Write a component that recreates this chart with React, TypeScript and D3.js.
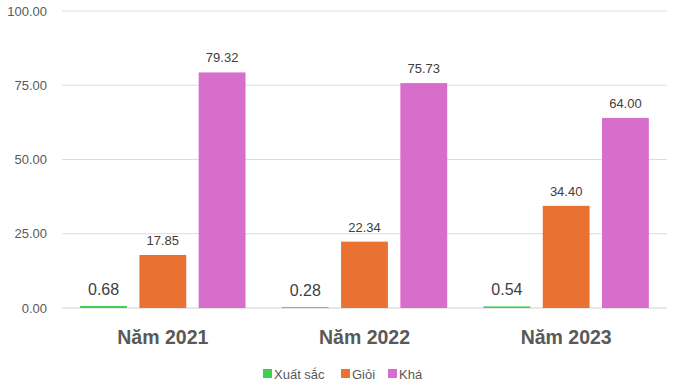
import React from "react";
import * as d3 from "d3";

const categories = ["Năm 2021", "Năm 2022", "Năm 2023"];
const seriesNames = ["Xuất sắc", "Giỏi", "Khá"];
const xuatSac = [0.68, 0.28, 0.54];
const gioi = [17.85, 22.34, 34.4];
const kha = [79.32, 75.73, 64.0];
const yTicks = [0, 25, 50, 75, 100];
const colors = ["#3fcf56", "#e97132", "#d86ecc"];

export default function App() {
  const W = 676, H = 388;
  const left = 62, right = 667, top = 11, bottom = 308;
  const series = [xuatSac, gioi, kha];
  const y = d3.scaleLinear().domain([0, 100]).range([bottom, top]);
  const x0 = d3.scaleBand<string>().domain(categories).range([left, right]).paddingInner(0.18).paddingOuter(0.09);
  const x1 = d3.scaleBand<string>().domain(seriesNames).range([0, x0.bandwidth()]).paddingInner(0.21);
  const font = "'Liberation Sans', Arial, sans-serif";
  const legendX = [263, 341, 388];
  return (
    <svg width={W} height={H} style={{ position: "absolute", left: 0, top: 0 }} fontFamily={font}>
      <rect width={W} height={H} fill="#fff" />
      {yTicks.map((t) => (
        <g key={t}>
          <line x1={left} x2={right} y1={y(t)} y2={y(t)} stroke={t === 0 ? "#d0d0d0" : "#dcdcdc"} strokeWidth={1} />
          <text x={47} y={y(t)} dy="0.35em" textAnchor="end" fontSize={13} fill="#595959">
            {t.toFixed(2)}
          </text>
        </g>
      ))}
      {categories.map((c, i) => (
        <g key={c}>
          {series.map((s, j) => {
            const bx = (x0(c) as number) + (x1(seriesNames[j]) as number);
            const v = s[i];
            const small = v < 1;
            return (
              <g key={j}>
                <rect x={bx} y={y(v)} width={x1.bandwidth()} height={bottom - y(v)} fill={colors[j]} />
                <text
                  x={bx + x1.bandwidth() / 2}
                  y={y(v) - (small ? 11 : 10)}
                  textAnchor="middle"
                  fontSize={small ? 16 : 13}
                  fill="#404040"
                >
                  {v.toFixed(2)}
                </text>
              </g>
            );
          })}
          <text
            x={(x0(c) as number) + x0.bandwidth() / 2}
            y={344}
            textAnchor="middle"
            fontSize={19.5}
            fontWeight="bold"
            fill="#595959"
          >
            {c}
          </text>
        </g>
      ))}
      {seriesNames.map((n, j) => (
        <g key={n}>
          <rect x={legendX[j]} y={369} width={9} height={9} fill={colors[j]} />
          <text x={legendX[j] + 11} y={374} dy="0.35em" fontSize={13} fill="#595959">
            {n}
          </text>
        </g>
      ))}
    </svg>
  );
}
